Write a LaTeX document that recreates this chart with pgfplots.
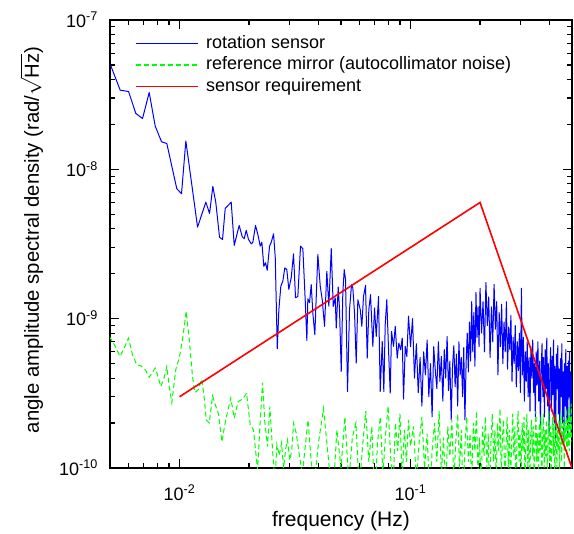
\documentclass[border=0pt]{standalone}
\usepackage{fontspec}
\setmainfont{Liberation Sans}
\usepackage{pgfplots}
\usepackage{pgfplotstable}
\pgfplotsset{compat=1.18}

\pgfplotstableread{
f v
0.005043 4.93e-8
0.005536 3.39e-8
0.006017 3.32e-8
0.006468 2.37e-8
0.006915 2.19e-8
0.007392 3.27e-8
0.007847 1.95e-8
0.008358 1.53e-8
0.008810 1.49e-8
0.00973 7.42e-9
0.01020 6.87e-9
0.01065 1.55e-8
0.01197 4.10e-9
0.01300 6.03e-9
0.01349 5.07e-9
0.01394 7.69e-9
0.01436 5.98e-9
0.01490 3.51e-9
0.01535 3.39e-9
0.01577 5.47e-9
0.01674 6.03e-9
0.01725 3.10e-9
0.01813 4.21e-9
0.01868 3.54e-9
0.01906 3.43e-9
0.01944 3.91e-9
0.0199 3.39e-9
0.02044 3.17e-9
0.02077 3.25e-9
0.02133 4.21e-9
0.02183 3.66e-9
0.02236 3.06e-9
0.02272 3.25e-9
0.02317 2.24e-9
0.02357 2.37e-9
0.02397 2.11e-9
0.02453 3.06e-9
0.02495 3.25e-9
0.02553 3.70e-9
0.02597 2.56e-9
0.02649 6.29e-10
0.02692 1.15e-9
0.02745 1.65e-9
0.0280 1.78e-9
0.02856 2.19e-9
0.02914 2.13e-9
0.02973 1.57e-9
0.03044 1.88e-9
0.03115 2.72e-9
0.03178 1.38e-9
0.03252 1.41e-9
0.03341 3.06e-9
0.03419 2.94e-9
0.03502 1.31e-9
0.03558 7.15e-10
0.03593 1.36e-9
0.03654 1.28e-9
0.03717 1.69e-9
0.03777 1.09e-9
0.03853 7.81e-10
0.0397 2.69e-9
0.04066 1.65e-9
0.04147 1.34e-9
0.04244 8.88e-10
0.04342 2.08e-9
0.0443 1.21e-9
0.04537 2.94e-9
0.04628 1.21e-9
0.04721 1.38e-9
0.04769 8.66e-10
0.04864 1.63e-9
0.04927 1.15e-9
0.05012 4.43e-10
0.05092 1.49e-9
0.05164 2.13e-9
0.05231 1.83e-9
0.05337 3.25e-10
0.05444 1.15e-9
0.05554 1.69e-9
0.05626 1.61e-9
0.05723 1.09e-9
0.0582 5.04e-10
0.05915 1.34e-9
0.06058 1.15e-9
0.06155 8.88e-10
0.06259 1.41e-9
0.06386 1.67e-9
0.06495 5.45e-10
0.066 1.15e-9
0.06712 1.45e-9
0.06868 6.52e-10
0.06986 1.18e-9
0.07105 7.61e-10
0.0727 1.41e-9
0.07393 3.25e-10
0.07543 7.04e-10
0.07664 3.25e-10
0.07771 9.11e-10
0.07895 1.34e-9
0.08032 6.19e-10
0.08168 3.17e-10
0.08274 8.22e-10
0.08442 6.52e-10
0.08586 8.88e-10
0.08759 5.45e-10
0.08899 6.87e-10
0.09053 6.19e-10
0.09207 7.42e-10
0.09327 2.89e-10
0.09486 6.52e-10
0.09638 5.58e-10
0.09802 1.04e-9
0.100 6.5e-10
0.102 1.0e-9
0.104 4.0e-10
0.106 6.8e-10
0.108 3.2e-10
0.110 5.5e-10
0.112 2.6e-10
0.114 6.0e-10
0.116 4.2e-10
0.118 7.2e-10
0.120 3.0e-10
0.122 5.0e-10
0.124 2.2e-10
0.126 6.5e-10
0.128 4.5e-10
0.130 3.4e-10
0.132 7.0e-10
0.134 3.8e-10
0.136 5.6e-10
0.138 2.8e-10
0.140 6.2e-10
0.142 4.0e-10
0.144 7.6e-10
0.146 3.3e-10
0.148 5.2e-10
0.150 2.1e-10
0.152 4.8e-10
0.154 6.6e-10
0.156 3.5e-10
0.158 5.8e-10
0.160 2.6e-10
0.162 7.0e-10
0.164 4.2e-10
0.166 5.5e-10
0.168 3.0e-10
0.170 6.4e-10
0.172 2.1e-10
0.174 5.0e-10
0.176 8.0e-10
0.178 4.4e-10
0.180 9.5e-10
0.182 5.2e-10
0.184 1.3e-9
0.186 6.0e-10
0.188 1.1e-9
0.190 4.8e-10
0.192 1.5e-9
0.194 7.5e-10
0.196 1.2e-9
0.198 6.5e-10
0.200 1.6e-9
0.203 8.0e-10
0.206 1.3e-9
0.209 6.0e-10
0.212 1.75e-9
0.215 9.0e-10
0.218 1.4e-9
0.221 5.5e-10
0.224 1.2e-9
0.227 7.0e-10
0.230 1.7e-9
0.233 8.5e-10
0.236 1.3e-9
0.239 4.2e-10
0.242 1.1e-9
0.245 6.5e-10
0.248 1.25e-9
0.251 5.0e-10
0.254 9.5e-10
0.257 6.0e-10
0.260 1.3e-9
0.263 4.6e-10
0.266 8.8e-10
0.269 6.2e-10
0.272 1.05e-9
0.275 3.8e-10
0.278 7.5e-10
0.281 5.0e-10
0.284 9.0e-10
0.287 3.5e-10
0.290 7.0e-10
0.293 4.5e-10
0.296 8.0e-10
0.299 3.2e-10
0.302 1.6e-9
0.305 4.2e-10
0.308 7.5e-10
0.311 2.8e-10
0.314 6.0e-10
0.317 3.8e-10
0.320 7.0e-10
0.323 3.0e-10
0.326 5.5e-10
0.329 2.4e-10
0.332 6.5e-10
0.335 4.0e-10
0.338 7.2e-10
0.341 3.2e-10
0.344 5.0e-10
0.347 2.2e-10
0.350 6.0e-10
0.353 3.6e-10
0.356 7.0e-10
0.359 2.8e-10
0.362 5.2e-10
0.365 1.9e-10
0.368 4.6e-10
0.371 6.8e-10
0.374 3.0e-10
0.377 5.5e-10
0.380 2.2e-10
0.383 6.2e-10
0.386 3.4e-10
0.389 7.4e-10
0.392 2.6e-10
0.395 5.0e-10
0.398 1.7e-10
0.401 4.4e-10
0.404 6.4e-10
0.407 2.4e-10
0.410 5.6e-10
0.413 3.1e-10
0.416 7.2e-10
0.419 2.0e-10
0.422 4.8e-10
0.425 1.6e-10
0.428 5.8e-10
0.431 3.4e-10
0.434 6.6e-10
0.437 2.3e-10
0.440 4.6e-10
0.443 1.8e-10
0.446 5.4e-10
0.449 3.0e-10
0.452 6.8e-10
0.455 2.0e-10
0.458 4.4e-10
0.461 1.5e-10
0.464 5.0e-10
0.467 2.6e-10
0.470 6.2e-10
0.473 2.1e-10
0.476 4.8e-10
0.479 1.6e-10
0.482 5.2e-10
0.485 3.0e-10
0.488 6.0e-10
0.491 2.2e-10
0.494 4.4e-10
0.497 1.8e-10
0.500 4.0e-10
}\rotsensor

\pgfplotstableread{
f v
0.00497 7.60e-10
0.00522 6.70e-10
0.00553 5.59e-10
0.00576 6.35e-10
0.00601 7.41e-10
0.00626 5.73e-10
0.00653 4.91e-10
0.00680 4.84e-10
0.00711 4.55e-10
0.00740 4.06e-10
0.00785 4.67e-10
0.00803 4.21e-10
0.00830 3.51e-10
0.00859 4.06e-10
0.00881 4.79e-10
0.00902 3.55e-10
0.00926 2.74e-10
0.00964 4.59e-10
0.00997 5.45e-10
0.01030 7.23e-10
0.01069 1.12e-9
0.01102 7.23e-10
0.01138 4.10e-10
0.01164 3.20e-10
0.01204 3.33e-10
0.01249 3.94e-10
0.01279 2.94e-10
0.01305 2.10e-10
0.01345 2.00e-10
0.01390 3.04e-10
0.01437 2.58e-10
0.01475 2.30e-10
0.01525 1.50e-10
0.01586 2.12e-10
0.01667 2.94e-10
0.01725 2.16e-10
0.01795 2.79e-10
0.01875 2.89e-10
0.01951 3.17e-10
0.02023 1.95e-10
0.02090 1.80e-10
0.02177 9.7e-11
0.02234 2.05e-10
0.02287 3.73e-10
0.02339 2.05e-10
0.02404 1.39e-10
0.02460 2.58e-10
0.02528 1.32e-10
0.02588 8.0e-11
0.02638 1.43e-10
0.02702 1.22e-10
0.02765 1.47e-10
0.02820 1.0e-10
0.02884 1.36e-10
0.02935 1.54e-10
0.03002 1.13e-10
0.03061 1.32e-10
0.03118 2.0e-10
0.03201 1.71e-10
0.034 0.9e-10
0.036 2.1e-10
0.038 0.7e-10
0.040 1.5e-10
0.042 2.5e-10
0.044 1.2e-10
0.046 0.6e-10
0.048 1.8e-10
0.050 1.0e-10
0.052 2.2e-10
0.054 0.8e-10
0.056 1.6e-10
0.058 2.0e-10
0.060 0.7e-10
0.062 1.4e-10
0.064 2.4e-10
0.066 1.1e-10
0.068 1.9e-10
0.070 0.6e-10
0.072 1.5e-10
0.074 2.2e-10
0.076 0.9e-10
0.078 1.7e-10
0.080 2.6e-10
0.082 1.2e-10
0.084 0.7e-10
0.086 2.0e-10
0.088 1.3e-10
0.090 2.3e-10
0.092 0.8e-10
0.094 1.8e-10
0.096 1.1e-10
0.098 2.1e-10
0.100 1.4e-10
0.103 1.9e-10
0.106 0.8e-10
0.109 1.5e-10
0.112 2.2e-10
0.115 1.0e-10
0.118 1.7e-10
0.121 0.6e-10
0.124 1.3e-10
0.127 2.0e-10
0.130 1.1e-10
0.133 2.4e-10
0.136 0.9e-10
0.139 1.6e-10
0.142 0.7e-10
0.145 1.9e-10
0.148 1.2e-10
0.151 2.1e-10
0.154 0.8e-10
0.157 1.5e-10
0.160 2.3e-10
0.163 1.0e-10
0.166 1.8e-10
0.169 0.6e-10
0.172 1.4e-10
0.175 2.2e-10
0.178 1.1e-10
0.181 1.7e-10
0.184 0.8e-10
0.187 2.0e-10
0.190 1.3e-10
0.193 2.4e-10
0.196 0.9e-10
0.199 1.6e-10
0.202 0.7e-10
0.205 1.9e-10
0.208 1.2e-10
0.211 2.2e-10
0.214 1.0e-10
0.217 1.7e-10
0.220 0.6e-10
0.223 1.5e-10
0.226 2.3e-10
0.229 1.1e-10
0.232 1.8e-10
0.235 0.8e-10
0.238 2.0e-10
0.241 1.3e-10
0.244 2.5e-10
0.247 0.9e-10
0.250 1.6e-10
0.253 2.1e-10
0.256 0.7e-10
0.259 1.4e-10
0.262 2.2e-10
0.265 1.0e-10
0.268 1.8e-10
0.271 0.8e-10
0.274 1.5e-10
0.277 2.3e-10
0.280 1.2e-10
0.283 1.9e-10
0.286 0.6e-10
0.289 1.6e-10
0.292 2.4e-10
0.295 1.1e-10
0.298 1.7e-10
0.301 0.9e-10
0.304 2.0e-10
0.307 1.3e-10
0.310 2.2e-10
0.313 0.8e-10
0.316 1.5e-10
0.319 2.3e-10
0.322 1.0e-10
0.325 1.8e-10
0.328 0.7e-10
0.331 1.6e-10
0.334 2.1e-10
0.337 1.2e-10
0.340 1.9e-10
0.343 0.8e-10
0.346 1.4e-10
0.349 2.4e-10
0.352 1.1e-10
0.355 1.7e-10
0.358 0.9e-10
0.361 2.0e-10
0.364 1.3e-10
0.367 2.2e-10
0.370 0.7e-10
0.373 1.6e-10
0.376 2.3e-10
0.379 1.0e-10
0.382 1.8e-10
0.385 1.2e-10
0.388 2.1e-10
0.391 0.8e-10
0.394 1.5e-10
0.397 2.4e-10
0.400 1.1e-10
0.403 1.9e-10
0.406 0.9e-10
0.409 1.7e-10
0.412 2.2e-10
0.415 1.2e-10
0.418 2.0e-10
0.421 0.8e-10
0.424 1.6e-10
0.427 2.3e-10
0.430 1.0e-10
0.433 1.8e-10
0.436 1.3e-10
0.439 2.1e-10
0.442 0.9e-10
0.445 1.7e-10
0.448 2.4e-10
0.451 1.1e-10
0.454 1.9e-10
0.457 1.4e-10
0.460 2.2e-10
0.463 1.0e-10
0.466 2.0e-10
0.469 1.5e-10
0.472 2.5e-10
0.475 1.2e-10
0.478 2.1e-10
0.481 1.4e-10
0.484 2.6e-10
0.487 1.3e-10
0.490 2.2e-10
0.493 1.6e-10
0.496 2.7e-10
0.499 1.5e-10
}\refmirror

\pgfplotstableread{
f v
0.01 3e-10
0.2 6e-9
0.5 1e-10
}\requirement

\begin{document}
\begin{tikzpicture}
\begin{axis}[
  at={(0pt,0pt)}, anchor=south west,
  scale only axis, width=462pt, height=448pt,
  xmode=log, ymode=log,
  xmin=0.005, xmax=0.5, ymin=1e-10, ymax=1e-7,
  xtick={0.01,0.1},
  xticklabels={10\textsuperscript{-2},10\textsuperscript{-1}},
  ytick={1e-10,1e-9,1e-8,1e-7},
  yticklabels={10\textsuperscript{-10},10\textsuperscript{-9},10\textsuperscript{-8},10\textsuperscript{-7}},
  minor xtick={0.006,0.007,0.008,0.009,0.02,0.03,0.04,0.05,0.06,0.07,0.08,0.09,0.2,0.3,0.4},
  minor ytick={2e-10,3e-10,4e-10,5e-10,6e-10,7e-10,8e-10,9e-10,2e-9,3e-9,4e-9,5e-9,6e-9,7e-9,8e-9,9e-9,2e-8,3e-8,4e-8,5e-8,6e-8,7e-8,8e-8,9e-8},
  tick label style={font=\fontsize{18}{20}\selectfont, inner sep=0pt},
  xticklabel style={anchor=base, yshift=-32pt},
  yticklabel style={anchor=base east, xshift=-12pt, yshift=-7pt},
  axis line style={line width=1.6pt},
  every tick/.style={black, line width=1.2pt},
  major tick length=9pt, minor tick length=5pt,
  xlabel={frequency (Hz)},
  ylabel={angle amplitude spectral density (rad/$\sqrt{\mbox{Hz}}$)},
  label style={font=\fontsize{21}{24}\selectfont},
  xlabel style={at={(axis description cs:0.5,0)}, anchor=base, yshift=-58pt},
  ylabel style={at={(axis description cs:-0.170,0.509)}, anchor=center, font=\fontsize{20.3}{24}\selectfont},
  legend style={at={(0,1)}, anchor=north west, xshift=25pt, yshift=-12.5pt,
    draw=none, fill=none, font=\fontsize{18}{20}\selectfont,
    inner sep=0pt, row sep=0pt,
    nodes={inner sep=2pt, text height=13.5pt, text depth=4pt}},
  legend cell align=left,
]
\addlegendimage{legend image code/.code={\draw[color=blue, line width=1.2pt] (0pt,0pt) -- (62pt,0pt); \path (68pt,0pt);}}
\addlegendentry{rotation sensor}
\addlegendimage{legend image code/.code={\draw[color=green, line width=1.4pt, dash pattern=on 5pt off 3pt] (0pt,0pt) -- (62pt,0pt); \path (68pt,0pt);}}
\addlegendentry{reference mirror (autocollimator noise)}
\addlegendimage{legend image code/.code={\draw[color=red, line width=1.6pt] (0pt,0pt) -- (62pt,0pt); \path (68pt,0pt);}}
\addlegendentry{sensor requirement}
\addplot[color=blue, line width=1pt, line join=round, forget plot] table[x=f, y=v] {\rotsensor};
\addplot[color=green, line width=1pt, dash pattern=on 5pt off 3pt, forget plot] table[x=f, y=v] {\refmirror};
\addplot[color=red, line width=1.6pt, forget plot] table[x=f, y=v] {\requirement};
\end{axis}
\pgfresetboundingbox
\useasboundingbox (-110pt,-66pt) rectangle (464pt,468pt);
\end{tikzpicture}
\end{document}
